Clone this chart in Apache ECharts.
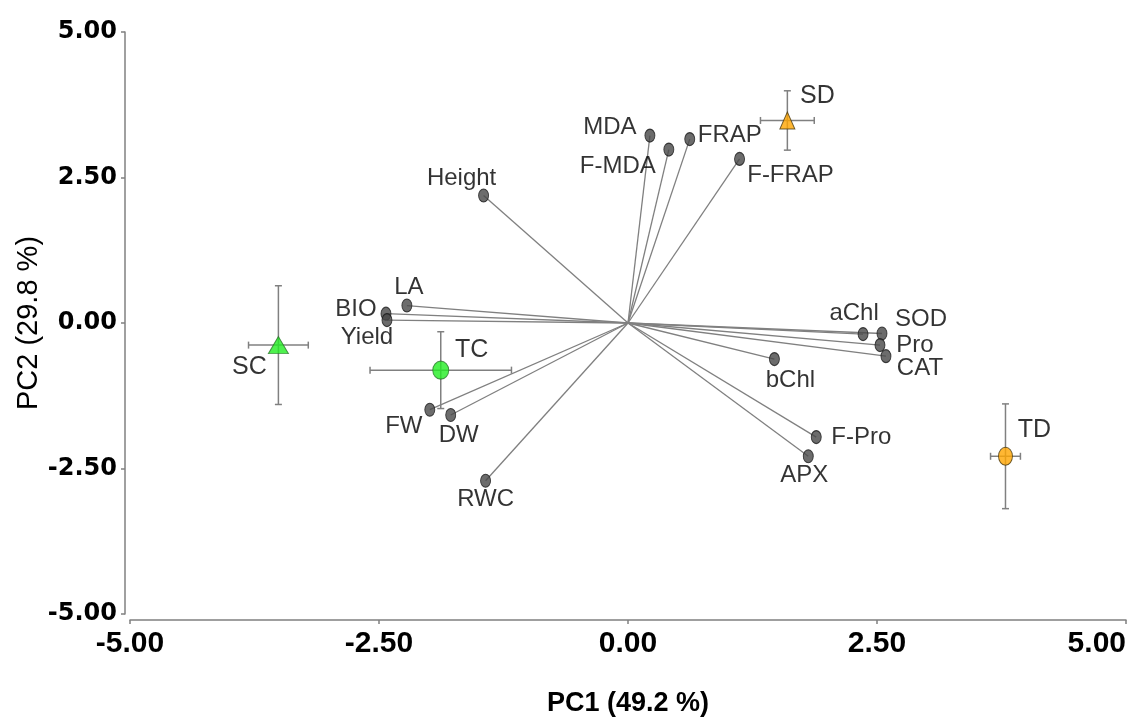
<!DOCTYPE html>
<html>
<head>
<meta charset="utf-8">
<title>PCA biplot</title>
<script src="https://cdn.jsdelivr.net/npm/echarts@6/dist/echarts.min.js"></script>
<style>
  html, body { margin: 0; padding: 0; background: #ffffff; }
  #chart { width: 1135px; height: 720px; }
</style>
</head>
<body>
<div id="chart"></div>
<script>
// Variable loadings on PC1 / PC2
const variables = ['MDA', 'F-MDA', 'FRAP', 'F-FRAP', 'Height', 'LA', 'BIO', 'Yield',
  'FW', 'DW', 'RWC', 'aChl', 'SOD', 'Pro', 'CAT', 'bChl', 'F-Pro', 'APX'];
const loadingPC1 = [0.22, 0.41, 0.62, 1.12, -1.45, -2.22, -2.43, -2.42,
  -1.99, -1.78, -1.43, 2.36, 2.55, 2.53, 2.59, 1.47, 1.89, 1.81];
const loadingPC2 = [3.22, 2.98, 3.16, 2.82, 2.19, 0.30, 0.16, 0.05,
  -1.49, -1.58, -2.71, -0.19, -0.18, -0.38, -0.57, -0.62, -1.96, -2.29];

// Treatment scores with standard errors
const treatments = ['SC', 'TC', 'SD', 'TD'];
const scorePC1 = [-3.51, -1.88, 1.60, 3.79];
const scorePC2 = [-0.38, -0.81, 3.48, -2.29];
const errPC1 = [0.30, 0.71, 0.27, 0.15];
const errPC2 = [1.02, 0.66, 0.51, 0.90];

// Axis titles and range
const xTitle = 'PC1 (49.2 %)';
const yTitle = 'PC2 (29.8 %)';
const axisMin = -5, axisMax = 5, axisStep = 2.5;

// Label placement around each marker (pixel offsets)
const labelOffset = {
  'MDA': [-40, -8], 'F-MDA': [-51, 17], 'FRAP': [40, -4], 'F-FRAP': [51, 16],
  'Height': [-22, -17], 'LA': [2, -18], 'BIO': [-30, -4], 'Yield': [-20, 17],
  'FW': [-26, 17], 'DW': [8, 20], 'RWC': [0, 19], 'aChl': [-9, -21],
  'SOD': [39, -14], 'Pro': [35, 0], 'CAT': [34, 12], 'bChl': [16, 21],
  'F-Pro': [45, 0], 'APX': [-4, 19],
  'SC': [-29, 22], 'TC': [31, -20], 'SD': [30, -24], 'TD': [29, -26]
};
const treatmentStyle = {
  'SC': { symbol: 'triangle', size: [20, 17], color: '#22ee22', border: '#2a7a2a' },
  'TC': { symbol: 'circle', size: [16, 18], color: '#22ee22', border: '#2a7a2a' },
  'SD': { symbol: 'triangle', size: [15, 17], color: '#ffa500', border: '#4a3a10' },
  'TD': { symbol: 'circle', size: [14, 18], color: '#ffa500', border: '#4a3a10' }
};

const FONT = 'Liberation Sans, Arial, sans-serif';
const TICK_FONT = 'DejaVu Sans, sans-serif';
const lineGrey = '#808080';

const vectorData = variables.map((n, i) => [loadingPC1[i], loadingPC2[i]]);
const loadingPoints = variables.map((n, i) => ({
  name: n,
  value: [loadingPC1[i], loadingPC2[i]],
  label: { offset: labelOffset[n] }
}));
const errorData = treatments.map((n, i) => [scorePC1[i], scorePC2[i], errPC1[i], errPC2[i]]);
const scorePoints = treatments.map((n, i) => ({
  name: n,
  value: [scorePC1[i], scorePC2[i]],
  symbol: treatmentStyle[n].symbol,
  symbolSize: treatmentStyle[n].size,
  itemStyle: { color: treatmentStyle[n].color, borderColor: treatmentStyle[n].border, borderWidth: 1 },
  label: { offset: labelOffset[n] }
}));

const chart = echarts.init(document.getElementById('chart'), null, { renderer: 'canvas' });

chart.setOption({
  animation: false,
  backgroundColor: '#ffffff',
  grid: { left: 130, right: 9, top: 32, bottom: 106, containLabel: false, outerBoundsMode: 'none' },
  xAxis: {
    type: 'value', min: axisMin, max: axisMax, interval: axisStep,
    offset: 6,
    name: xTitle, nameLocation: 'middle', nameGap: 70, nameMoveOverlap: false,
    nameTextStyle: { fontFamily: FONT, fontSize: 27, color: '#000', fontWeight: 'bold' },
    axisLine: { onZero: false, lineStyle: { color: lineGrey, width: 1.5 } },
    axisTick: { show: true, length: 4, lineStyle: { color: lineGrey, width: 1.5 } },
    axisLabel: { fontFamily: FONT, fontSize: 30, color: '#000', margin: 9, fontWeight: 'bold',
      alignMaxLabel: 'right', formatter: v => v.toFixed(2) },
    splitLine: { show: false }
  },
  yAxis: {
    type: 'value', min: axisMin, max: axisMax, interval: axisStep,
    offset: 5,
    name: yTitle, nameLocation: 'middle', nameGap: 82, nameMoveOverlap: false,
    nameTextStyle: { fontFamily: FONT, fontSize: 29, color: '#000' },
    axisLine: { onZero: false, lineStyle: { color: lineGrey, width: 1.5 } },
    axisTick: { show: true, length: 4, lineStyle: { color: lineGrey, width: 1.5 } },
    axisLabel: { fontFamily: TICK_FONT, fontSize: 24, color: '#000', margin: 8, fontWeight: 'bold',
      formatter: v => v.toFixed(2) },
    splitLine: { show: false }
  },
  series: [
    {
      // loading vectors from the origin
      type: 'custom',
      silent: true,
      z: 1,
      data: vectorData,
      renderItem: function (params, api) {
        const o = api.coord([0, 0]);
        const p = api.coord([api.value(0), api.value(1)]);
        return {
          type: 'line',
          shape: { x1: o[0], y1: o[1], x2: p[0], y2: p[1] },
          style: { stroke: lineGrey, lineWidth: 1.3 }
        };
      }
    },
    {
      // loading end points
      type: 'scatter',
      z: 3,
      symbol: 'circle',
      symbolSize: [10, 13],
      itemStyle: { color: '#474747', borderColor: '#1a1a1a', borderWidth: 1 },
      label: {
        show: true, position: 'inside', formatter: '{b}',
        fontFamily: FONT, fontSize: 24, color: '#000',
        align: 'center', verticalAlign: 'middle'
      },
      data: loadingPoints
    },
    {
      // standard error bars for treatment scores
      type: 'custom',
      silent: true,
      z: 4,
      data: errorData,
      renderItem: function (params, api) {
        const x = api.value(0), y = api.value(1), ex = api.value(2), ey = api.value(3);
        const l = api.coord([x - ex, y]), r = api.coord([x + ex, y]);
        const t = api.coord([x, y + ey]), b = api.coord([x, y - ey]);
        const cap = 3.5;
        const st = { stroke: lineGrey, lineWidth: 1.5 };
        const seg = (x1, y1, x2, y2) => ({ type: 'line', shape: { x1, y1, x2, y2 }, style: st });
        return {
          type: 'group',
          children: [
            seg(l[0], l[1], r[0], r[1]),
            seg(t[0], t[1], b[0], b[1]),
            seg(l[0], l[1] - cap, l[0], l[1] + cap),
            seg(r[0], r[1] - cap, r[0], r[1] + cap),
            seg(t[0] - cap, t[1], t[0] + cap, t[1]),
            seg(b[0] - cap, b[1], b[0] + cap, b[1])
          ]
        };
      }
    },
    {
      // treatment scores
      type: 'scatter',
      z: 5,
      label: {
        show: true, position: 'inside', formatter: '{b}',
        fontFamily: FONT, fontSize: 25, color: '#000',
        align: 'center', verticalAlign: 'middle'
      },
      data: scorePoints
    }
  ]
});
</script>
</body>
</html>
